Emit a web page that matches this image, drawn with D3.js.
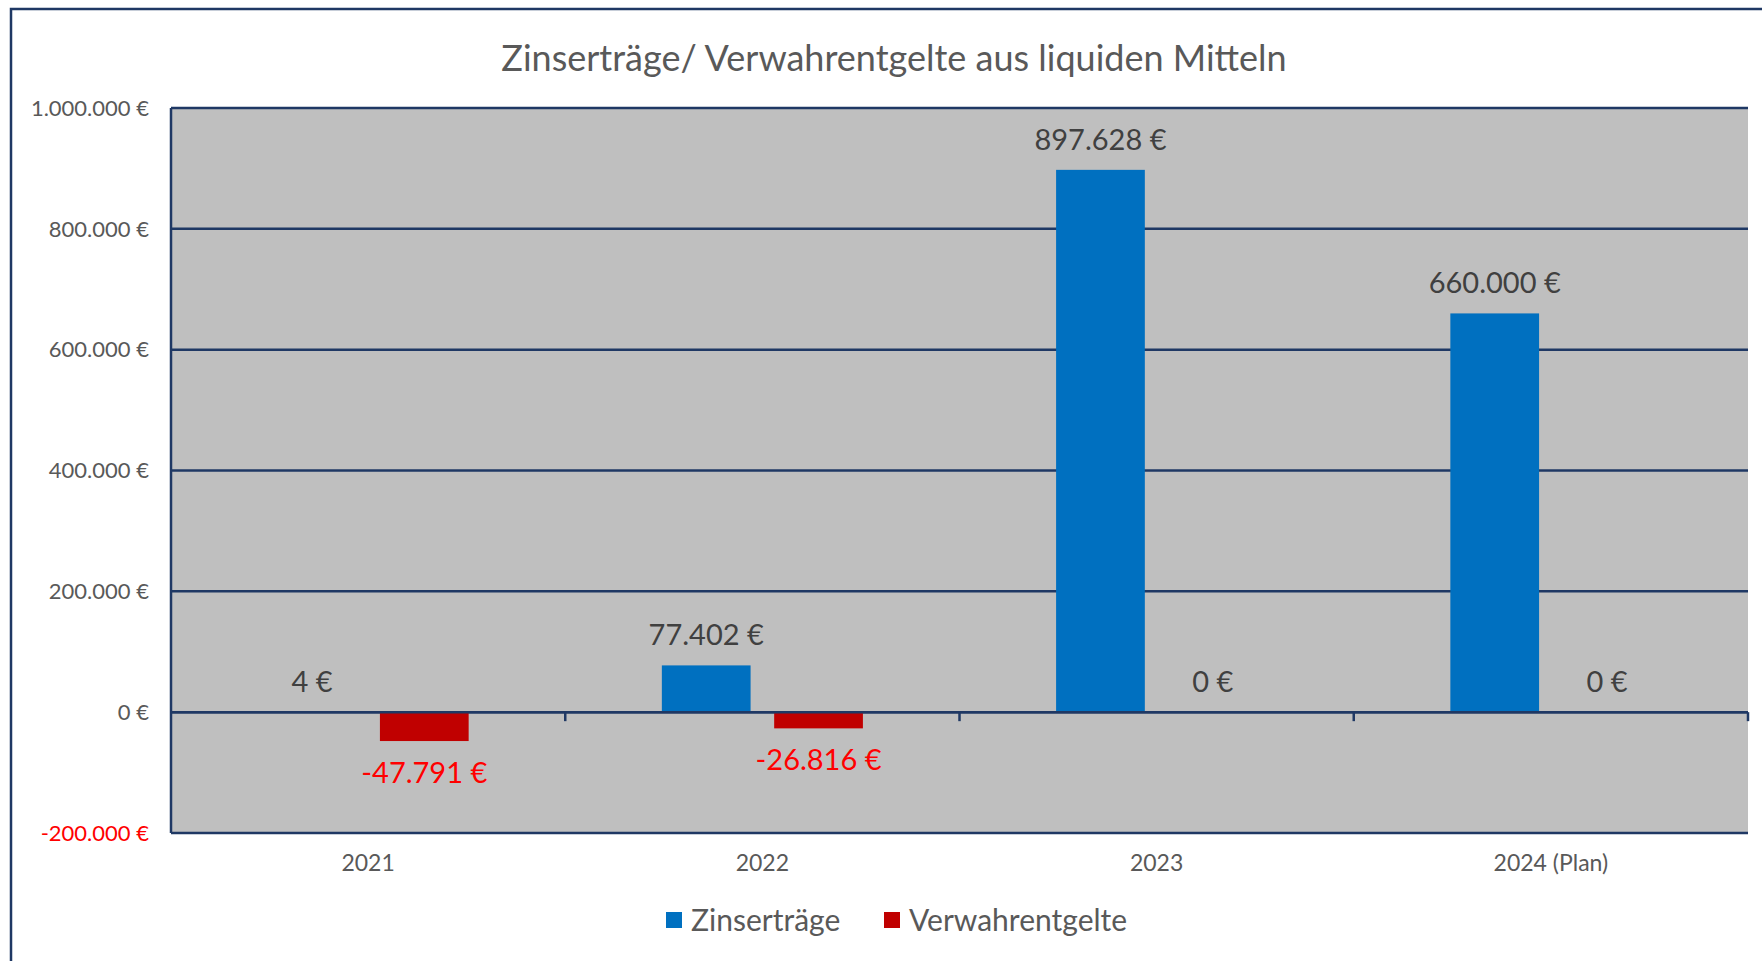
<html>
<head>
<meta charset="utf-8">
<title>Zinserträge / Verwahrentgelte</title>
<script src="https://d3js.org/d3.v7.min.js"></script>
<style>
  body { margin: 0; background: #fff; }
  text { font-family: Lato, "Open Sans", sans-serif; }
</style>
</head>
<body>
<svg id="chart"></svg>
<script>
    const years = ["2021", "2022", "2023", "2024 (Plan)"];
    const seriesNames = ["Zinserträge", "Verwahrentgelte"];
    const zinsertraege = [4, 77402, 897628, 660000];
    const verwahrentgelte = [-47791, -26816, 0, 0];
    const yTicks = [-200000, 0, 200000, 400000, 600000, 800000, 1000000];
    const colors = ["#0070C0", "#C00000"];

    const width = 1762, height = 961;
    const margin = {left: 171, right: 14, top: 108, bottom: 128};
    const navy = "#1F3864";

    const de = d3.formatLocale({decimal: ",", thousands: ".", grouping: [3], currency: ["", "\u00a0€"], minus: "-"});
    const fmt = de.format("$,.0f");

    const svg = d3.select("#chart")
        .attr("width", width)
        .attr("height", height);

    // outer chart frame (runs past the right / bottom edge)
    svg.append("rect")
        .attr("x", 11).attr("y", 9)
        .attr("width", width + 50).attr("height", height + 50)
        .attr("fill", "#fff")
        .attr("stroke", navy).attr("stroke-width", 2.5);

    const x0 = d3.scaleBand().domain(years).range([margin.left, width - margin.right]);
    const x1 = d3.scaleBand().domain(seriesNames).range([0, x0.bandwidth()])
        .paddingInner(0.21).paddingOuter(0.86);
    const y = d3.scaleLinear().domain([-200000, 1000000]).range([height - margin.bottom, margin.top]);

    // plot background
    svg.append("rect")
        .attr("x", margin.left).attr("y", margin.top)
        .attr("width", width - margin.right - margin.left)
        .attr("height", y(-200000) - margin.top)
        .attr("fill", "#BFBFBF");

    // gridlines
    svg.append("g")
        .selectAll("line")
        .data(yTicks)
        .join("line")
        .attr("x1", margin.left).attr("x2", width - margin.right)
        .attr("y1", d => y(d)).attr("y2", d => y(d))
        .attr("stroke", navy).attr("stroke-width", 2.5);

    // y axis line
    svg.append("line")
        .attr("x1", margin.left).attr("x2", margin.left)
        .attr("y1", y(1000000)).attr("y2", y(-200000))
        .attr("stroke", navy).attr("stroke-width", 2.5);

    // y labels
    svg.append("g")
        .selectAll("text")
        .data(yTicks)
        .join("text")
        .attr("x", margin.left - 22)
        .attr("y", d => y(d))
        .attr("dy", "0.35em")
        .attr("text-anchor", "end")
        .attr("font-size", 22)
        .attr("fill", d => d < 0 ? "#FF0000" : "#595959")
        .text(d => fmt(d));

    // bars
    const rows = years.map((yr, i) => ({year: yr, values: [zinsertraege[i], verwahrentgelte[i]]}));
    const groups = svg.append("g")
        .selectAll("g")
        .data(rows)
        .join("g")
        .attr("transform", d => `translate(${x0(d.year)},0)`);

    const cells = groups.selectAll("g")
        .data(d => d.values.map((v, j) => ({key: seriesNames[j], value: v, j})))
        .join("g");

    cells.append("rect")
        .attr("x", d => x1(d.key))
        .attr("width", x1.bandwidth())
        .attr("y", d => y(Math.max(0, d.value)))
        .attr("height", d => Math.abs(y(d.value) - y(0)))
        .attr("fill", d => colors[d.j]);

    // zero axis with downward ticks
    svg.append("line")
        .attr("x1", margin.left).attr("x2", width - margin.right)
        .attr("y1", y(0)).attr("y2", y(0))
        .attr("stroke", navy).attr("stroke-width", 2.5);
    svg.append("g")
        .selectAll("line")
        .data(years)
        .join("line")
        .attr("x1", d => x0(d) + x0.bandwidth()).attr("x2", d => x0(d) + x0.bandwidth())
        .attr("y1", y(0)).attr("y2", y(0) + 9)
        .attr("stroke", navy).attr("stroke-width", 2.5);

    // data labels
    cells.append("text")
        .attr("x", d => x1(d.key) + x1.bandwidth() / 2)
        .attr("y", d => d.value < 0 ? y(d.value) + 42 : y(d.value) - 20)
        .attr("text-anchor", "middle")
        .attr("font-size", 29)
        .attr("fill", d => d.value < 0 ? "#FF0000" : "#404040")
        .text(d => fmt(d.value));

    // category labels
    svg.append("g")
        .selectAll("text")
        .data(years)
        .join("text")
        .attr("x", d => x0(d) + x0.bandwidth() / 2)
        .attr("y", 863)
        .attr("dy", "0.35em")
        .attr("text-anchor", "middle")
        .attr("font-size", 23)
        .attr("fill", "#595959")
        .text(d => d);

    // title
    svg.append("text")
        .attr("x", 894).attr("y", 58)
        .attr("dy", "0.35em")
        .attr("text-anchor", "middle")
        .attr("font-size", 36)
        .attr("fill", "#595959")
        .text("Zinserträge/ Verwahrentgelte aus liquiden Mitteln");

    // legend
    const legend = svg.append("g").attr("transform", "translate(666,920)");
    const legendX = [0, 218];
    const item = legend.selectAll("g")
        .data(seriesNames)
        .join("g")
        .attr("transform", (d, i) => `translate(${legendX[i]},0)`);
    item.append("rect")
        .attr("x", 0).attr("y", -8)
        .attr("width", 16).attr("height", 16)
        .attr("fill", (d, i) => colors[i]);
    item.append("text")
        .attr("x", 25).attr("y", 0)
        .attr("dy", "0.35em")
        .attr("font-size", 30)
        .attr("fill", "#595959")
        .text(d => d);
</script>
</body>
</html>
